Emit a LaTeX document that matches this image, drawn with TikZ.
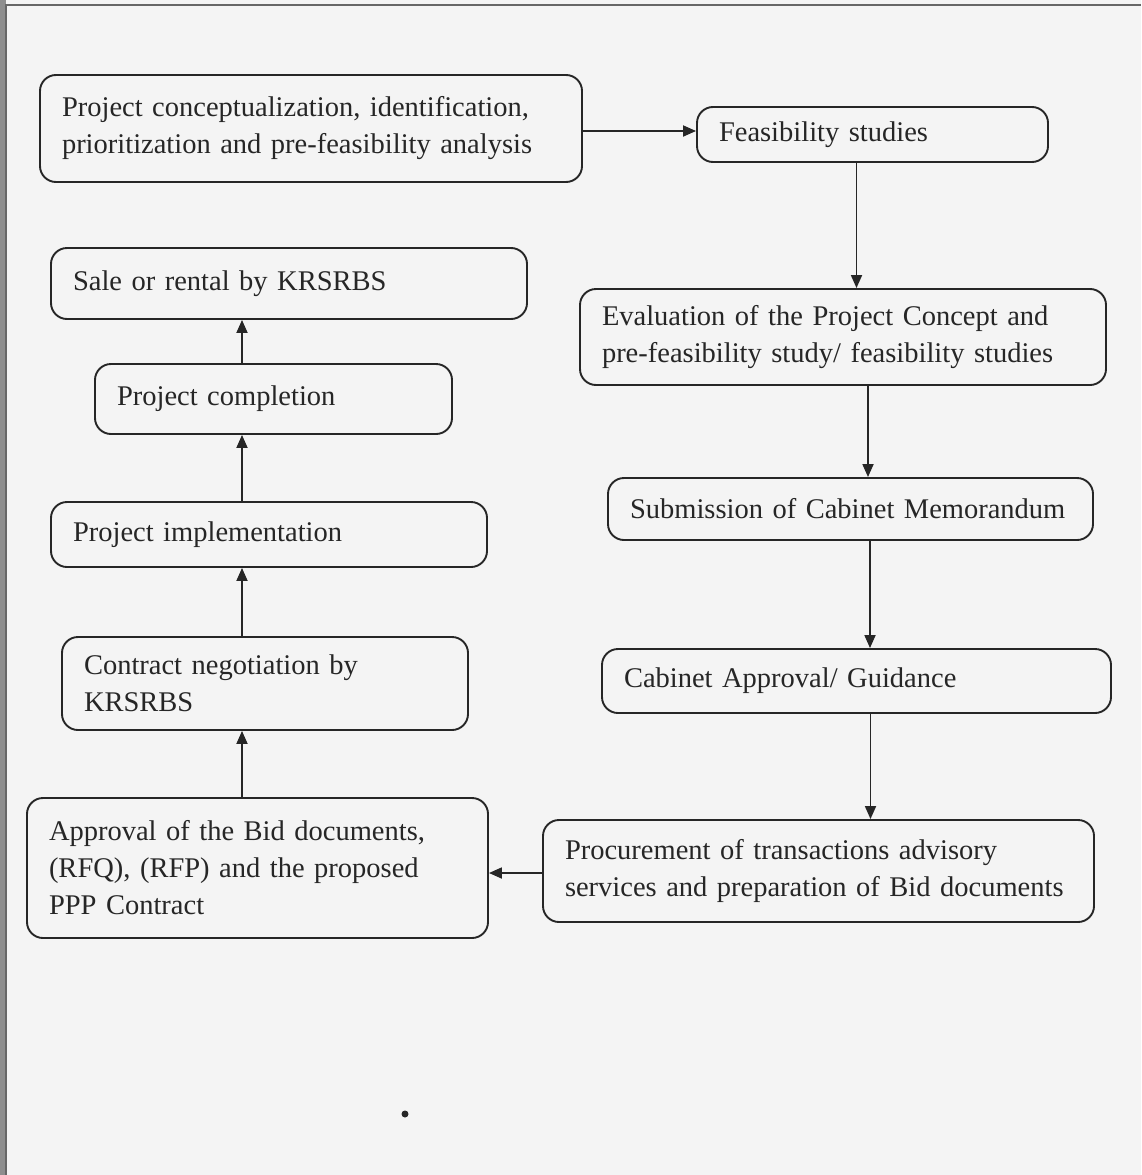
\documentclass[tikz,border=0pt]{standalone}
\usepackage{fontspec}
\setmainfont{Liberation Serif}
\usepackage{xcolor}
\usetikzlibrary{arrows.meta}
\hyphenpenalty=10000
\definecolor{paper}{HTML}{F4F4F4}
\definecolor{ink}{HTML}{262626}
\definecolor{edge}{HTML}{8E8E8E}
\tikzset{
  stage/.style={draw=ink, line width=1.9pt, rounded corners=16pt, align=left,
    inner xsep=22pt, inner ysep=0pt, text=ink, font=\fontsize{28.5}{37}\selectfont},
  flow/.style={draw=ink, line width=1.8pt, -{Triangle[length=13pt,width=11pt]}},
}

\begin{document}
\begin{tikzpicture}[x=1pt,y=-1pt]
  \fill[paper] (0,0) rectangle (1141,1175);
  \useasboundingbox (0,0) rectangle (1141,1175);
  \fill[edge] (0,0) rectangle (6,1175);
  \draw[ink!70, line width=1.2pt] (6,1175) -- (6,5) -- (1141,5);

  % right column
  \node[stage, text width=498pt, minimum height=107pt] (concept) at (311,128.5)
    {Project conceptualization, identification,\\prioritization and pre-feasibility analysis};
  \node[stage, text width=307pt, minimum height=55pt] (feas) at (872.5,134.5) {Feasibility studies};
  \node[stage, text width=482pt, minimum height=96pt] (eval) at (843,337)
    {Evaluation of the Project Concept and\\pre-feasibility study/ feasibility studies};
  \node[stage, text width=441pt, minimum height=62pt] (memo) at (850.5,509) {Submission of Cabinet Memorandum};
  \node[stage, text width=465pt, minimum height=64pt] (cabinet) at (856.5,681) {Cabinet Approval/ Guidance};
  \node[stage, text width=507pt, minimum height=102pt] (procure) at (818.5,871)
    {Procurement of transactions advisory\\services and preparation of Bid documents};

  % left column
  \node[stage, text width=417pt, minimum height=140pt] (bids) at (257.5,868)
    {Approval of the Bid documents,\\(RFQ), (RFP) and the proposed\\PPP Contract};
  \node[stage, text width=362pt, minimum height=93pt] (contract) at (265,683.5)
    {Contract negotiation by\\KRSRBS};
  \node[stage, text width=392pt, minimum height=65pt] (implement) at (269,534.5) {Project implementation};
  \node[stage, text width=313pt, minimum height=70pt] (complete) at (273.5,399) {Project completion};
  \node[stage, text width=432pt, minimum height=71pt] (sale) at (289,283.5) {Sale or rental by KRSRBS};

  % connectors
  \draw[flow] ([yshift=-2.5pt]concept.east) -- ([yshift=-2.5pt]concept.east -| feas.west);
  \draw[flow] ([xshift=-16pt]feas.south) -- ([xshift=-16pt]feas.south |- eval.north);
  \draw[flow] ([xshift=25pt]eval.south) -- ([xshift=25pt]eval.south |- memo.north);
  \draw[flow] ([xshift=19.5pt]memo.south) -- ([xshift=19.5pt]memo.south |- cabinet.north);
  \draw[flow] ([xshift=14pt]cabinet.south) -- ([xshift=14pt]cabinet.south |- procure.north);
  \draw[flow] ([yshift=-2pt]procure.west) -- ([yshift=-2pt]procure.west -| bids.east);
  \draw[flow] ([xshift=-15.5pt]bids.north) -- ([xshift=-15.5pt]bids.north |- contract.south);
  \draw[flow] ([xshift=-23pt]contract.north) -- ([xshift=-23pt]contract.north |- implement.south);
  \draw[flow] ([xshift=-27pt]implement.north) -- ([xshift=-27pt]implement.north |- complete.south);
  \draw[flow] ([xshift=-31.5pt]complete.north) -- ([xshift=-31.5pt]complete.north |- sale.south);

  \fill[ink] (405,1114) circle (3.5pt);
\end{tikzpicture}
\end{document}
